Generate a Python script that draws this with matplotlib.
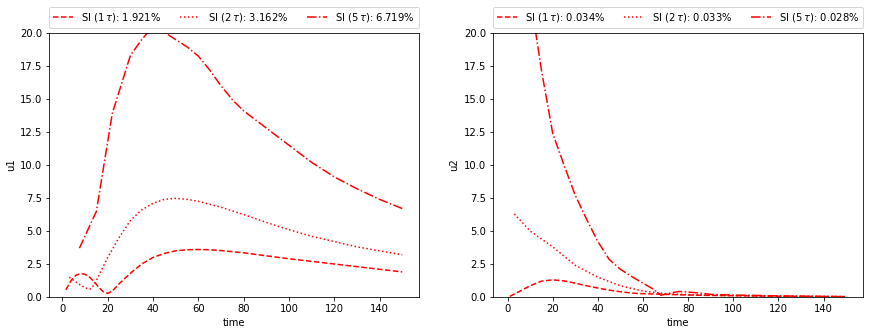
import matplotlib
matplotlib.use("Agg")
import matplotlib.pyplot as plt

# left panel (u1)
t1 = [1.5, 4, 6, 8, 10, 12, 14, 16, 18, 20, 22, 25, 30, 35, 40, 45, 50, 55, 60, 65, 70,
      80, 90, 100, 110, 120, 130, 140, 150]
u1_1 = [0.55, 1.3, 1.65, 1.78, 1.72, 1.5, 1.15, 0.75, 0.4, 0.27, 0.45, 1.0, 1.8, 2.5, 3.0,
        3.3, 3.5, 3.58, 3.6, 3.58, 3.52, 3.35, 3.12, 2.9, 2.7, 2.5, 2.3, 2.1, 1.9]
t2 = [3, 5, 8, 10, 12, 14, 16, 18, 20, 22, 25, 30, 35, 40, 45, 50, 55, 60, 70, 80, 90,
      100, 110, 120, 130, 140, 150]
u1_2 = [1.5, 1.25, 0.9, 0.7, 0.58, 0.9, 1.6, 2.3, 3.0, 3.6, 4.5, 5.8, 6.6, 7.1, 7.4, 7.47,
        7.4, 7.25, 6.8, 6.25, 5.65, 5.1, 4.6, 4.2, 3.8, 3.5, 3.2]
t5 = [7.5, 15, 22, 30, 35, 40, 45, 50, 55, 60, 65, 70, 75, 80, 90, 100, 110, 120, 130,
      140, 150]
u1_5 = [3.7, 6.5, 13.9, 18.3, 19.5, 20.5, 20.05, 19.5, 18.95, 18.25, 17.2, 16.0, 14.95,
        14.1, 12.8, 11.5, 10.2, 9.1, 8.2, 7.4, 6.7]
labels_u1 = [r'SI (1$\,\tau$): 1.921%', r'SI (2$\,\tau$): 3.162%', r'SI (5$\,\tau$): 6.719%']

# right panel (u2)
t1r = [1, 5, 10, 15, 20, 25, 30, 35, 40, 45, 50, 55, 60, 70, 80, 90, 100, 110, 120, 130,
       140, 150]
u2_1 = [0.05, 0.4, 0.85, 1.2, 1.3, 1.22, 1.05, 0.85, 0.68, 0.52, 0.4, 0.3, 0.25, 0.2, 0.15,
        0.12, 0.1, 0.08, 0.06, 0.05, 0.04, 0.03]
t2r = [3, 10, 20, 30, 40, 50, 60, 70, 80, 90, 100, 110, 120, 130, 140, 150]
u2_2 = [6.3, 5.0, 3.8, 2.4, 1.5, 0.85, 0.45, 0.25, 0.18, 0.14, 0.1, 0.08, 0.07, 0.05,
        0.04, 0.03]
t5r = [7.5, 10, 12.5, 15, 20, 25, 30, 35, 40, 45, 50, 55, 60, 65, 68, 72, 76, 80, 85, 90,
       100, 110, 120, 130, 140, 150]
u2_5 = [30, 24, 20, 17.2, 12.4, 10.0, 7.7, 5.9, 4.2, 2.85, 2.1, 1.55, 1.05, 0.55, 0.13,
        0.3, 0.42, 0.38, 0.3, 0.2, 0.15, 0.12, 0.08, 0.06, 0.04, 0.02]
labels_u2 = [r'SI (1$\,\tau$): 0.034%', r'SI (2$\,\tau$): 0.033%', r'SI (5$\,\tau$): 0.028%']

styles = ['--', ':', '-.']

fig = plt.figure(figsize=(869 / 72, 335 / 72), dpi=72)
ax1 = fig.add_axes([0.0564, 0.1134, 0.4258, 0.7881])
ax2 = fig.add_axes([0.5673, 0.1134, 0.4258, 0.7881])

panels = [
    (ax1, [(t1, u1_1), (t2, u1_2), (t5, u1_5)], labels_u1, 'u1'),
    (ax2, [(t1r, u2_1), (t2r, u2_2), (t5r, u2_5)], labels_u2, 'u2'),
]
for ax, series, labels, ylab in panels:
    for (t, u), ls, lab in zip(series, styles, labels):
        ax.plot(t, u, color='r', linestyle=ls, label=lab)
    ax.set_ylim(0, 20)
    ax.set_xlabel('time')
    ax.set_ylabel(ylab)
    ax.legend(bbox_to_anchor=(0., 1.02, 1., .102), loc='lower left', ncol=3,
              mode='expand', borderaxespad=0.)

fig.savefig('out.png', dpi=72)
